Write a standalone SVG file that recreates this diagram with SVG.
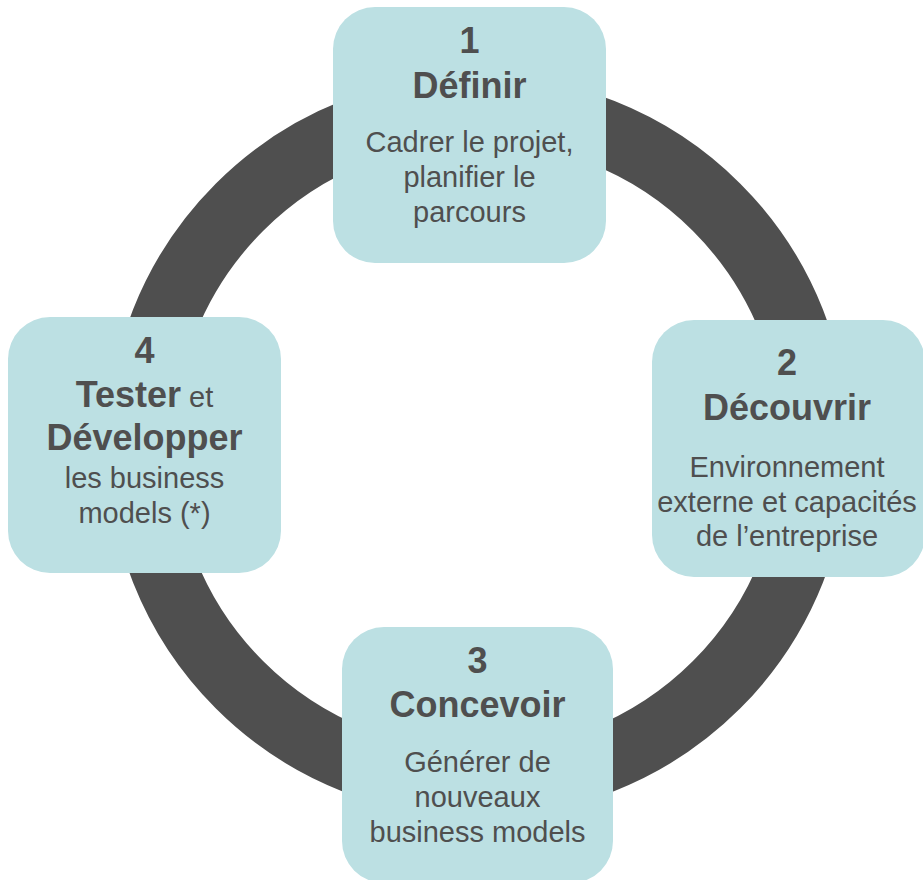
<svg xmlns="http://www.w3.org/2000/svg" width="923" height="880" viewBox="0 0 923 880">
<style>
.box{fill:#bce0e3;}
.t{font-family:"Liberation Sans",Arial,sans-serif;fill:#4f4f4f;text-anchor:middle;}
.b{font-weight:bold;font-size:36px;}
.r{font-size:29px;}
</style>
<rect width="923" height="880" fill="#ffffff"/>
<g id="connectors">
<circle cx="478" cy="446" r="337.5" fill="none" stroke="#4f4f4f" stroke-width="67"/>
</g>
<g id="node1">
<rect class="box" x="333" y="7" width="273" height="256" rx="42"/>
<text class="t b" x="469.5" y="53">1</text>
<text class="t b" x="469.5" y="98">Définir</text>
<text class="t r" x="469.5" y="152">Cadrer le projet,</text>
<text class="t r" x="469.5" y="187">planifier le</text>
<text class="t r" x="469.5" y="222">parcours</text>
</g>
<g id="node2">
<rect class="box" x="652" y="320" width="273" height="257" rx="42"/>
<text class="t b" x="787" y="375">2</text>
<text class="t b" x="787" y="420">Découvrir</text>
<text class="t r" x="787" y="477">Environnement</text>
<text class="t r" x="787" y="512">externe et capacités</text>
<text class="t r" x="787" y="546">de l’entreprise</text>
</g>
<g id="node3">
<rect class="box" x="342" y="627" width="271" height="256" rx="42"/>
<text class="t b" x="477.5" y="673">3</text>
<text class="t b" x="477.5" y="717">Concevoir</text>
<text class="t r" x="477.5" y="772">Générer de</text>
<text class="t r" x="477.5" y="807">nouveaux</text>
<text class="t r" x="477.5" y="842">business models</text>
</g>
<g id="node4">
<rect class="box" x="8" y="317" width="273" height="256" rx="42"/>
<text class="t b" x="144.5" y="363">4</text>
<text class="t" x="144.5" y="407"><tspan class="b">Tester</tspan><tspan class="r"> et</tspan></text>
<text class="t b" x="144.5" y="450">Développer</text>
<text class="t r" x="144.5" y="488">les business</text>
<text class="t r" x="144.5" y="523">models (*)</text>
</g>
</svg>
